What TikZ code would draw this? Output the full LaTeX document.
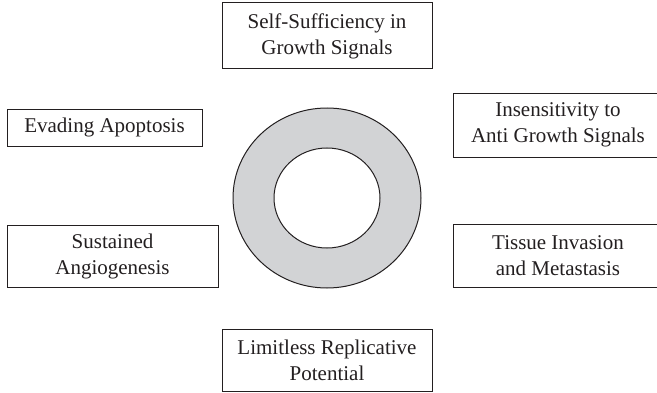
\documentclass[tikz,border=0pt]{standalone}
\usepackage{fontspec}
\setmainfont{Liberation Serif}
\usetikzlibrary{positioning,shapes.geometric}
\definecolor{ringgray}{RGB}{210,211,213}
\definecolor{inkline}{RGB}{35,31,32}
\begin{document}
\begin{tikzpicture}[x=1pt, y=1pt, font=\fontsize{21}{26}\selectfont, text=inkline,
  box/.style={draw=inkline, line width=1pt, align=center, inner sep=0pt},
  disc/.style={ellipse, draw=inkline, line width=1pt, inner sep=0pt}]
\useasboundingbox (0,0) rectangle (657,392);
\clip (0,0) rectangle (657,392);
\node[disc, fill=ringgray, minimum width=188, minimum height=180] (ring) at (327,194) {};
\node[disc, fill=white, minimum width=106, minimum height=100] (core) at (ring.center) {};
\node[box, minimum width=210, minimum height=66] (growth) at (327,356) {Self-Sufficiency in\\Growth Signals};
\node[box, minimum width=195, minimum height=37] (apoptosis) at (104.5,264.5) {Evading Apoptosis};
\node[box, minimum width=210, minimum height=64] (antigrowth) at (558,267) {Insensitivity to\\Anti Growth Signals};
\node[box, minimum width=211, minimum height=62] (angio) at (112.5,136) {Sustained\\Angiogenesis};
\node[box, minimum width=210, minimum height=63] (invasion) at (558,136) {Tissue Invasion\\and Metastasis};
\node[box, minimum width=210, minimum height=62] (replicative) at (327,32) {Limitless Replicative\\Potential};
\end{tikzpicture}
\end{document}
